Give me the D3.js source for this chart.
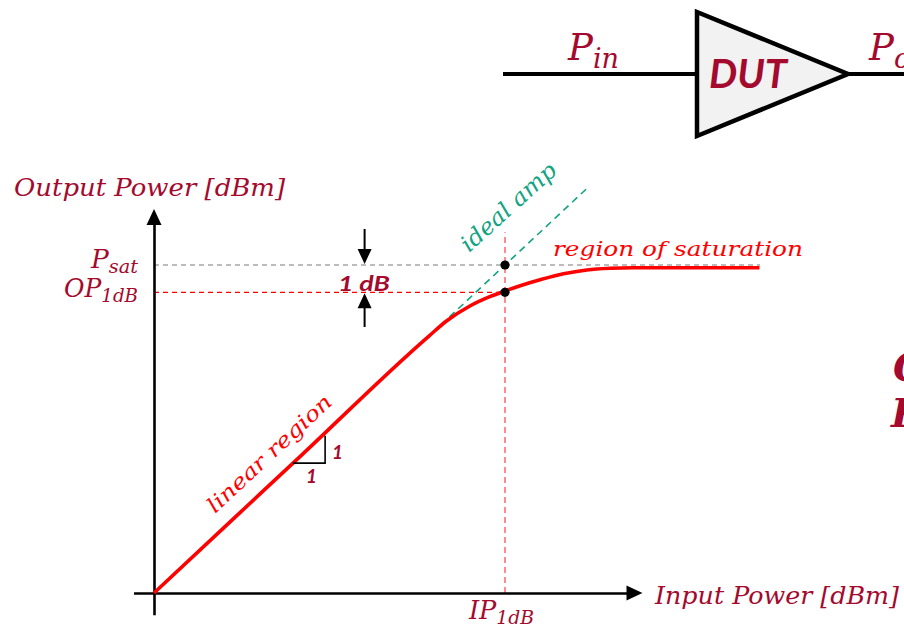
<!DOCTYPE html>
<html>
<head>
<meta charset="utf-8">
<script src="https://cdn.jsdelivr.net/npm/d3@7/dist/d3.min.js"></script>
<style>
  html, body { margin: 0; padding: 0; background: #fff; overflow: hidden; }
  svg { display: block; }
  .math { font-family: "DejaVu Serif", "Liberation Serif", serif; font-style: italic; }
  .bold { font-family: Lato, "Open Sans", sans-serif; font-style: italic; font-weight: 700; }
</style>
</head>
<body>
<svg id="chart" width="904" height="629"></svg>
<script>
// Amplifier transfer curve (input power vs output power, dBm)
const pinCurve  = [-12, -7, -2.6, -2.0, -1.2, -0.5, 0, 0.6, 1.2, 2.0, 2.8, 3.6, 4.4, 8.7];
const poutCurve = [-2, 3, 7.4, 7.95, 8.5, 8.85, 9.05, 9.27, 9.46, 9.68, 9.82, 9.88, 9.9, 9.9];

// Ideal (linear) amplifier extension beyond the linear region
const idealPin  = [-1.9, 2.85];
const idealPout = [8.1, 12.85];

// Key levels
const ip1dB = 0;        // input 1 dB compression point
const op1dB = 9;        // output 1 dB compression point
const psat = 10;        // saturated output power
const idealAtIp1dB = 10;

// Axis extents and guide-line ends (dBm)
const xAxisExtent = [-12.7, 4.7];
const yAxisExtent = [-2.8, 12.05];
const psatLineEnd = 8.72;
const ipLineTop = 11.2;
const gapArrowPin = -4.8;

// Slope triangle along the linear region (1 dB run, 1 dB rise)
const slopePin = [-7.25, -6.15];
const slopePout = [2.75, 3.75];

const maroon = "#a30a2e";
const red = "#ff0000";
const teal = "#12a383";

const svg = d3.select("#chart");

const x = d3.scaleLinear().domain([-12, 0]).range([154, 505]);
const y = d3.scaleLinear().domain([-2, 10]).range([593, 265]);

// ---------- DUT block diagram ----------
const dut = svg.append("g");
dut.append("line").attr("x1", 503).attr("x2", 697).attr("y1", 74).attr("y2", 74)
  .attr("stroke", "#000").attr("stroke-width", 4);
dut.append("line").attr("x1", 846).attr("x2", 904).attr("y1", 74).attr("y2", 74)
  .attr("stroke", "#000").attr("stroke-width", 4);
dut.append("path").attr("d", "M697,12 L848,74 L697,136 Z")
  .attr("fill", "#f2f2f2").attr("stroke", "#000").attr("stroke-width", 4.5)
  .attr("stroke-linejoin", "miter");
dut.append("text").attr("class", "bold").attr("x", 709).attr("y", 88)
  .attr("font-size", 40).attr("fill", maroon).attr("textLength", 78)
  .attr("lengthAdjust", "spacingAndGlyphs").text("DUT");

const pinLbl = dut.append("text").attr("class", "math").attr("x", 568).attr("y", 60)
  .attr("fill", maroon).attr("font-size", 37);
pinLbl.append("tspan").text("P");
pinLbl.append("tspan").attr("font-size", 27).attr("dy", 8).text("in");

const poutLbl = dut.append("text").attr("class", "math").attr("x", 869).attr("y", 60)
  .attr("fill", maroon).attr("font-size", 37);
poutLbl.append("tspan").text("P");
poutLbl.append("tspan").attr("font-size", 27).attr("dy", 8).text("out");

// ---------- Guide lines ----------
svg.append("line")
  .attr("x1", x(-12)).attr("x2", x(psatLineEnd))
  .attr("y1", y(psat)).attr("y2", y(psat))
  .attr("stroke", "#a6a6a6").attr("stroke-width", 1.3).attr("stroke-dasharray", "5,4");

svg.append("line")
  .attr("x1", x(-12)).attr("x2", x(ip1dB))
  .attr("y1", y(op1dB)).attr("y2", y(op1dB))
  .attr("stroke", red).attr("stroke-width", 1.3).attr("stroke-dasharray", "5,4");

svg.append("line")
  .attr("x1", x(ip1dB)).attr("x2", x(ip1dB))
  .attr("y1", y(-2)).attr("y2", y(ipLineTop))
  .attr("stroke", "#ff4d4d").attr("stroke-width", 1.3).attr("stroke-dasharray", "6,4");

// Ideal amplifier dashed line
svg.append("path")
  .datum(d3.zip(idealPin, idealPout))
  .attr("d", d3.line().x(d => x(d[0])).y(d => y(d[1])))
  .attr("fill", "none").attr("stroke", teal).attr("stroke-width", 1.6)
  .attr("stroke-dasharray", "7,5");

// ---------- Axes ----------
const xAxisScale = d3.scaleLinear().domain(xAxisExtent).range([x(xAxisExtent[0]), x(xAxisExtent[1]) - 14]);
const yAxisScale = d3.scaleLinear().domain(yAxisExtent).range([y(yAxisExtent[0]), y(yAxisExtent[1]) + 14]);

const gx = svg.append("g").attr("transform", `translate(0,${y(-2)})`)
  .call(d3.axisBottom(xAxisScale).tickValues([]).tickSizeOuter(0));
gx.select(".domain").attr("stroke", "#000").attr("stroke-width", 2.6);

const gy = svg.append("g").attr("transform", `translate(${x(-12)},0)`)
  .call(d3.axisLeft(yAxisScale).tickValues([]).tickSizeOuter(0));
gy.select(".domain").attr("stroke", "#000").attr("stroke-width", 2.6);

// Arrowheads
const xTip = x(xAxisExtent[1]), yTip = y(yAxisExtent[1]);
svg.append("path")
  .attr("d", `M${xTip},${y(-2)} L${xTip - 16},${y(-2) - 7.5} L${xTip - 16},${y(-2) + 7.5} Z`)
  .attr("fill", "#000");
svg.append("path")
  .attr("d", `M${x(-12)},${yTip} L${x(-12) - 7.5},${yTip + 16} L${x(-12) + 7.5},${yTip + 16} Z`)
  .attr("fill", "#000");

// ---------- Transfer curve ----------
svg.append("path")
  .datum(d3.zip(pinCurve, poutCurve))
  .attr("d", d3.line().x(d => x(d[0])).y(d => y(d[1])).curve(d3.curveMonotoneX))
  .attr("fill", "none").attr("stroke", red).attr("stroke-width", 3.6)
  .attr("stroke-linecap", "butt");

// Compression-point markers
svg.selectAll("circle.mk")
  .data([idealAtIp1dB, op1dB])
  .join("circle").attr("class", "mk")
  .attr("cx", x(ip1dB)).attr("cy", d => y(d)).attr("r", 4.6).attr("fill", "#000");

// ---------- 1 dB gap arrows ----------
const ax = x(gapArrowPin);
svg.append("line").attr("x1", ax).attr("x2", ax).attr("y1", 229).attr("y2", y(psat) - 14)
  .attr("stroke", "#000").attr("stroke-width", 2);
svg.append("path")
  .attr("d", `M${ax},${y(psat) - 1} L${ax - 7},${y(psat) - 16} L${ax + 7},${y(psat) - 16} Z`)
  .attr("fill", "#000");
svg.append("line").attr("x1", ax).attr("x2", ax).attr("y1", y(op1dB) + 14).attr("y2", 327)
  .attr("stroke", "#000").attr("stroke-width", 2);
svg.append("path")
  .attr("d", `M${ax},${y(op1dB) + 1} L${ax - 7},${y(op1dB) + 16} L${ax + 7},${y(op1dB) + 16} Z`)
  .attr("fill", "#000");
svg.append("text").attr("class", "bold").attr("x", 338).attr("y", 291)
  .attr("font-size", 21).attr("fill", maroon).attr("textLength", 52)
  .attr("lengthAdjust", "spacingAndGlyphs").text("1 dB");

// ---------- Slope triangle ----------
const tx0 = x(slopePin[0]), tx1 = x(slopePin[1]);
const ty0 = y(slopePout[0]), ty1 = y(slopePout[1]);
svg.append("path")
  .attr("d", `M${tx0},${ty0} L${tx1},${ty0} L${tx1},${ty1}`)
  .attr("fill", "none").attr("stroke", "#000").attr("stroke-width", 1.6);
svg.append("text").attr("class", "bold").attr("x", (tx0 + tx1) / 2 - 3).attr("y", ty0 + 20)
  .attr("font-size", 19).attr("fill", maroon).text("1");
svg.append("text").attr("class", "bold").attr("x", tx1 + 7).attr("y", (ty0 + ty1) / 2 + 9)
  .attr("font-size", 19).attr("fill", maroon).text("1");

// ---------- Labels ----------
svg.append("text").attr("class", "math").attr("x", 14).attr("y", 196)
  .attr("font-size", 25).attr("fill", maroon).attr("textLength", 271)
  .attr("lengthAdjust", "spacingAndGlyphs").text("Output Power [dBm]");

svg.append("text").attr("class", "math").attr("x", 655).attr("y", 604)
  .attr("font-size", 25).attr("fill", maroon).attr("textLength", 244)
  .attr("lengthAdjust", "spacingAndGlyphs").text("Input Power [dBm]");

const psatLbl = svg.append("text").attr("class", "math").attr("x", 91).attr("y", 268)
  .attr("font-size", 26).attr("fill", maroon).attr("textLength", 47)
  .attr("lengthAdjust", "spacingAndGlyphs");
psatLbl.append("tspan").text("P");
psatLbl.append("tspan").attr("font-size", 19).attr("dy", 5).text("sat");

const opLbl = svg.append("text").attr("class", "math").attr("x", 64).attr("y", 297)
  .attr("font-size", 26).attr("fill", maroon).attr("textLength", 74)
  .attr("lengthAdjust", "spacingAndGlyphs");
opLbl.append("tspan").text("OP");
opLbl.append("tspan").attr("font-size", 19).attr("dy", 5).text("1dB");

const ipLbl = svg.append("text").attr("class", "math").attr("x", 469).attr("y", 619)
  .attr("font-size", 26).attr("fill", maroon).attr("textLength", 65)
  .attr("lengthAdjust", "spacingAndGlyphs");
ipLbl.append("tspan").text("IP");
ipLbl.append("tspan").attr("font-size", 19).attr("dy", 5).text("1dB");

svg.append("text").attr("class", "math")
  .attr("transform", "translate(469,253) rotate(-42)")
  .attr("font-size", 23).attr("fill", teal).attr("textLength", 120)
  .attr("lengthAdjust", "spacingAndGlyphs").text("ideal amp");

svg.append("text").attr("class", "math").attr("x", 553).attr("y", 256)
  .attr("font-size", 21).attr("fill", red).attr("textLength", 250)
  .attr("lengthAdjust", "spacingAndGlyphs").text("region of saturation");

svg.append("text").attr("class", "math")
  .attr("transform", "translate(215,514) rotate(-43)")
  .attr("font-size", 21).attr("fill", red).attr("textLength", 162)
  .attr("lengthAdjust", "spacingAndGlyphs").text("linear region");

// Side heading (continues past the right edge)
svg.append("text").attr("class", "math").attr("x", 893).attr("y", 381)
  .attr("font-size", 40).attr("font-weight", 700).attr("fill", maroon).text("Compression");
svg.append("text").attr("class", "math").attr("x", 891).attr("y", 427)
  .attr("font-size", 40).attr("font-weight", 700).attr("fill", maroon).text("Point");
</script>
</body>
</html>
